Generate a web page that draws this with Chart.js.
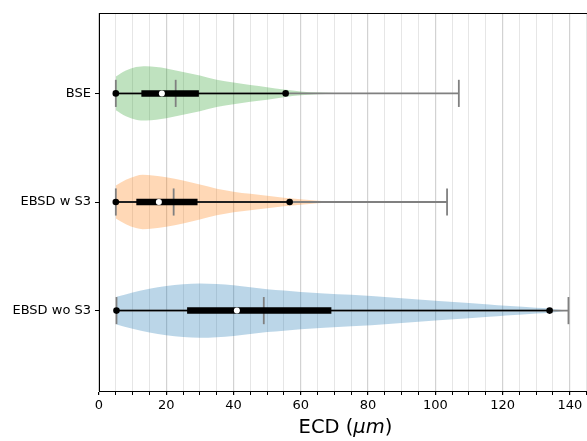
<!DOCTYPE html>
<html>
<head>
<meta charset="utf-8">
<script src="https://cdn.jsdelivr.net/npm/chart.js@4.4.1/dist/chart.umd.min.js"></script>
<style>
  html, body { margin: 0; padding: 0; background: #fff; overflow: hidden; }
  canvas { display: block; }
</style>
</head>
<body>
<canvas id="ecdChart" width="600" height="441"></canvas>
<script>
const categories = ['EBSD wo S3', 'EBSD w S3', 'BSE'];
const positions = [1, 2, 3];
const minValues = [5.2, 5.0, 5.0];
const q1Values = [26.2, 11.1, 12.6];
const medianValues = [41.0, 17.8, 18.7];
const q3Values = [69.1, 29.3, 29.7];
const whiskerHigh = [134.0, 56.7, 55.5];
const meanValues = [49.0, 22.2, 22.8];
const maxValues = [139.6, 103.5, 107.0];

// density outlines, relative to each violin's peak
const woS3DensityX = [5.2, 10, 15, 20, 25, 30, 35, 40, 45, 50, 55, 60, 67, 75, 87, 95, 101, 110, 116, 121, 126, 130, 134, 137, 139.6];
const woS3Density = [0.51, 0.67, 0.81, 0.91, 0.97, 1.0, 0.98, 0.93, 0.86, 0.79, 0.74, 0.69, 0.635, 0.58, 0.48, 0.41, 0.35, 0.28, 0.23, 0.18, 0.145, 0.11, 0.08, 0.03, 0];
const wS3DensityX = [5, 8, 11, 13, 16, 20, 25, 30, 35, 40, 45, 50, 55, 60, 65, 70, 80, 95, 103.5];
const wS3Density = [0.61, 0.82, 0.96, 1.0, 0.98, 0.91, 0.79, 0.64, 0.49, 0.38, 0.3, 0.23, 0.16, 0.1, 0.05, 0.02, 0.005, 0.001, 0];
const bseDensityX = [5, 8, 11, 14, 17, 20, 25, 30, 35, 40, 45, 50, 55, 60, 65, 70, 80, 95, 107.0];
const bseDensity = [0.62, 0.84, 0.97, 1.0, 0.97, 0.92, 0.79, 0.66, 0.5, 0.4, 0.31, 0.23, 0.14, 0.07, 0.03, 0.012, 0.004, 0.001, 0];

const xTickLabels = [0, 20, 40, 60, 80, 100, 120, 140];

const densityX = [woS3DensityX, wS3DensityX, bseDensityX];
const densityY = [woS3Density, wS3Density, bseDensity];
const fillColors = ['rgba(31,119,180,0.3)', 'rgba(255,127,14,0.3)', 'rgba(44,160,44,0.3)'];

const violinHalf = 0.25;
const capHalf = 0.125;
const grey = 'rgb(128,128,128)';
const font = { family: 'DejaVu Sans', size: 13 };

function lineSet(points, color, width, order) {
  return {
    data: points, borderColor: color, borderWidth: width, pointRadius: 0,
    fill: false, order, borderCapStyle: 'butt'
  };
}

const datasets = [];
positions.forEach((pos, i) => {
  // violin body: upper edge then lower edge filled to it
  datasets.push({
    data: densityX[i].map((x, j) => ({ x, y: pos + densityY[i][j] * violinHalf })),
    borderWidth: 0, pointRadius: 0, fill: false, cubicInterpolationMode: 'monotone', order: 6
  });
  datasets.push({
    data: densityX[i].map((x, j) => ({ x, y: pos - densityY[i][j] * violinHalf })),
    borderWidth: 0, pointRadius: 0, fill: '-1', backgroundColor: fillColors[i],
    cubicInterpolationMode: 'monotone', order: 6
  });
  // extrema and mean lines
  datasets.push(lineSet([{ x: minValues[i], y: pos }, { x: maxValues[i], y: pos }], grey, 1.8, 5));
  [minValues[i], meanValues[i], maxValues[i]].forEach(v => {
    datasets.push(lineSet([{ x: v, y: pos - capHalf }, { x: v, y: pos + capHalf }], grey, 1.8, 5));
  });
  // box plot
  datasets.push(lineSet([{ x: minValues[i], y: pos }, { x: whiskerHigh[i], y: pos }], '#000', 1.5, 4));
  datasets.push(lineSet([{ x: q1Values[i], y: pos }, { x: q3Values[i], y: pos }], '#000', 6.5, 3));
  datasets.push({
    data: [{ x: minValues[i], y: pos }, { x: whiskerHigh[i], y: pos }],
    showLine: false, pointRadius: 3.3, pointBackgroundColor: '#000', pointBorderWidth: 0, order: 2
  });
  datasets.push({
    data: [{ x: medianValues[i], y: pos }],
    showLine: false, pointRadius: 3, pointBackgroundColor: '#fff', pointBorderWidth: 0, order: 1
  });
});

const frameAndTitle = {
  id: 'frameAndTitle',
  afterDraw(chart) {
    const { ctx, chartArea } = chart;
    ctx.save();
    ctx.strokeStyle = '#000';
    ctx.lineWidth = 1;
    ctx.beginPath();
    ctx.moveTo(chartArea.left, Math.round(chartArea.top) + 0.5);
    ctx.lineTo(chartArea.right, Math.round(chartArea.top) + 0.5);
    ctx.lineTo(chartArea.right, chartArea.bottom);
    ctx.stroke();

    // x axis title with italic unit
    const parts = [['ECD (', ''], ['\u03bcm', 'italic '], [')', '']];
    const size = 19.5;
    let total = 0;
    parts.forEach(p => {
      ctx.font = p[1] + size + 'px "DejaVu Sans"';
      total += ctx.measureText(p[0]).width;
    });
    let x = (chartArea.left + chartArea.right) / 2 - total / 2;
    ctx.fillStyle = '#000';
    ctx.textBaseline = 'alphabetic';
    parts.forEach(p => {
      ctx.font = p[1] + size + 'px "DejaVu Sans"';
      ctx.fillText(p[0], x, 433);
      x += ctx.measureText(p[0]).width;
    });
    ctx.restore();
  }
};

new Chart(document.getElementById('ecdChart').getContext('2d'), {
  type: 'line',
  data: { datasets },
  options: {
    responsive: false,
    devicePixelRatio: 1,
    animation: false,
    layout: { padding: { top: 13, right: 8, left: 0, bottom: 0 } },
    plugins: { legend: { display: false }, tooltip: { enabled: false } },
    scales: {
      x: {
        type: 'linear',
        min: 0,
        max: 146.6,
        afterBuildTicks: scale => {
          const ticks = [];
          for (let v = 0; v <= 145; v += 5) ticks.push({ value: v });
          scale.ticks = ticks;
        },
        afterFit: scale => { scale.height = 50; },
        ticks: {
          autoSkip: false, maxRotation: 0, font, color: '#000', padding: 3,
          callback: v => xTickLabels.includes(v) ? String(v) : ''
        },
        grid: {
          color: c => (c.tick && c.tick.value % 20 === 0) ? '#d2d2d2' : '#e6e6e6',
          lineWidth: c => (c.tick && c.tick.value % 20 === 0) ? 1.2 : 1,
          tickColor: '#000',
          tickLength: 4
        },
        border: { color: '#000', width: 1 }
      },
      y: {
        type: 'linear',
        min: 0.26,
        max: 3.74,
        afterBuildTicks: scale => { scale.ticks = positions.map(v => ({ value: v })); },
        afterFit: scale => { scale.width = 99; },
        ticks: {
          font, color: '#000', padding: 4,
          callback: v => categories[positions.indexOf(v)] || ''
        },
        grid: { drawOnChartArea: false, color: '#000', tickLength: 4 },
        border: { color: '#000', width: 1 }
      }
    }
  },
  plugins: [frameAndTitle]
});
</script>
</body>
</html>
